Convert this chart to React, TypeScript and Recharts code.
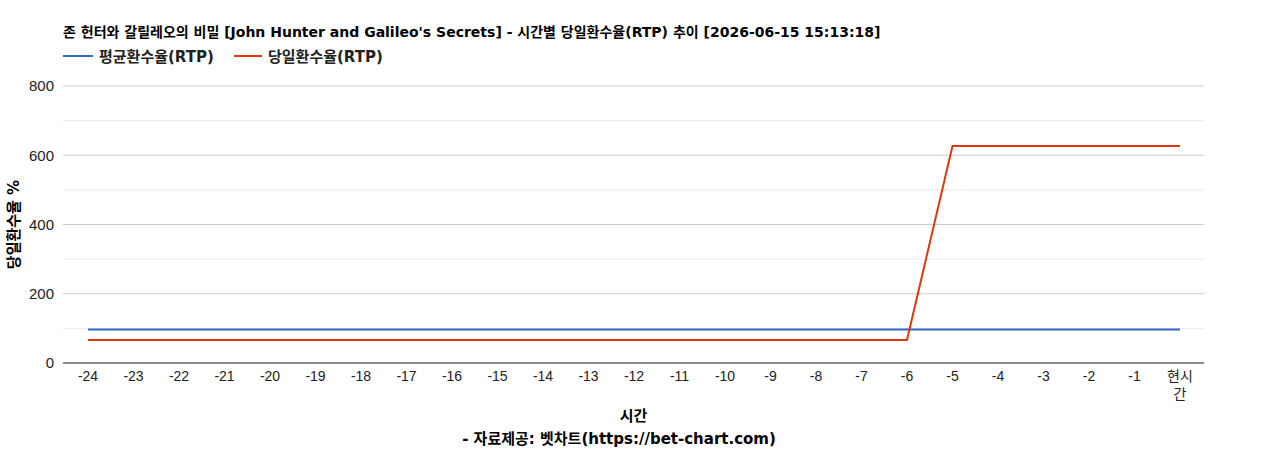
import React from "react";
import {
  LineChart,
  Line,
  XAxis,
  YAxis,
  CartesianGrid,
  ReferenceLine,
  Label,
} from "recharts";

const hours = [
  "-24", "-23", "-22", "-21", "-20", "-19", "-18", "-17", "-16", "-15", "-14", "-13",
  "-12", "-11", "-10", "-9", "-8", "-7", "-6", "-5", "-4", "-3", "-2", "-1", "현시간",
];
const avgRtp = [
  96.9, 96.9, 96.9, 96.9, 96.9, 96.9, 96.9, 96.9, 96.9, 96.9, 96.9, 96.9,
  96.9, 96.9, 96.9, 96.9, 96.9, 96.9, 96.9, 96.9, 96.9, 96.9, 96.9, 96.9, 96.9,
];
const dayRtp = [
  66.5, 66.5, 66.5, 66.5, 66.5, 66.5, 66.5, 66.5, 66.5, 66.5, 66.5, 66.5,
  66.5, 66.5, 66.5, 66.5, 66.5, 66.5, 66.5, 627, 627, 627, 627, 627, 627,
];
const majorTicks = [0, 200, 400, 600, 800];
const minorTicks = [100, 300, 500, 700];

const data = hours.map((h, i) => ({ hour: h, avg: avgRtp[i], day: dayRtp[i] }));

const TITLE_FONT = "'DejaVu Sans', 'Noto Sans CJK KR', sans-serif";
const TICK_FONT = "'Liberation Sans', Arial, 'Noto Sans CJK KR', sans-serif";

const XTick = (props: any) => {
  const { x, y, payload } = props;
  const v: string = payload.value;
  const lines = v === "현시간" ? ["현시", "간"] : [v];
  return (
    <text x={x} y={y} textAnchor="middle" fill="#222" fontSize={14} fontFamily={TICK_FONT}>
      {lines.map((l, i) => (
        <tspan key={i} x={x} dy={i === 0 ? 10 : 18}>
          {l}
        </tspan>
      ))}
    </text>
  );
};

const textStyle: React.CSSProperties = {
  position: "absolute",
  fontFamily: TITLE_FONT,
  fontSize: 15,
  fontWeight: 700,
  color: "#000",
  whiteSpace: "nowrap",
};

export default function App() {
  return (
    <div style={{ position: "absolute", left: 0, top: 0, width: 1268, height: 450, background: "#fff" }}>
      <div style={{ ...textStyle, fontSize: 14, left: 63, top: 21 }}>
        존 헌터와 갈릴레오의 비밀 [John Hunter and Galileo's Secrets] - 시간별 당일환수율(RTP) 추이 [2026-06-15 15:13:18]
      </div>
      <div style={{ ...textStyle, left: 63, top: 45, display: "flex", color: "#222" }}>
        <div style={{ display: "flex", alignItems: "center", width: 171 }}>
          <span style={{ width: 30, height: 2, background: "#3366cc", marginRight: 6, display: "inline-block" }} />
          평균환수율(RTP)
        </div>
        <div style={{ display: "flex", alignItems: "center" }}>
          <span style={{ width: 28, height: 2, background: "#dc3912", marginRight: 6, display: "inline-block" }} />
          당일환수율(RTP)
        </div>
      </div>
      <div style={{ ...textStyle, left: 63, width: 1141, top: 404, textAlign: "center" }}>시간</div>
      <div style={{ ...textStyle, left: 0, width: 1238, top: 427, textAlign: "center" }}>
        - 자료제공: 벳차트(https://bet-chart.com)
      </div>
      <LineChart
        width={1268}
        height={450}
        data={data}
        margin={{ top: 86, right: 64, bottom: 57, left: 13 }}
      >
        <CartesianGrid vertical={false} stroke="#cccccc" />
        {minorTicks.map((t) => (
          <ReferenceLine key={t} y={t} stroke="#ebebeb" />
        ))}
        <XAxis
          dataKey="hour"
          tick={<XTick />}
          tickLine={false}
          axisLine={{ stroke: "#333" }}
          interval={0}
          height={30}
          padding={{ left: 25, right: 24 }}
        />
        <YAxis
          domain={[0, 800]}
          ticks={majorTicks}
          width={50}
          tickLine={false}
          axisLine={false}
          tick={{ fill: "#222", fontSize: 15, fontFamily: TICK_FONT }}
          tickMargin={3}
        >
          <Label
            value="당일환수율 %"
            angle={-90}
            position="insideLeft"
            offset={1}
            style={{ fontFamily: TITLE_FONT, fontSize: 15, fontWeight: 700, fill: "#000", textAnchor: "middle" }}
          />
        </YAxis>
        <Line
          dataKey="avg"
          stroke="#3366cc"
          strokeWidth={2}
          dot={false}
          isAnimationActive={false}
          type="linear"
        />
        <Line
          dataKey="day"
          stroke="#dc3912"
          strokeWidth={2}
          dot={false}
          isAnimationActive={false}
          type="linear"
        />
      </LineChart>
    </div>
  );
}
